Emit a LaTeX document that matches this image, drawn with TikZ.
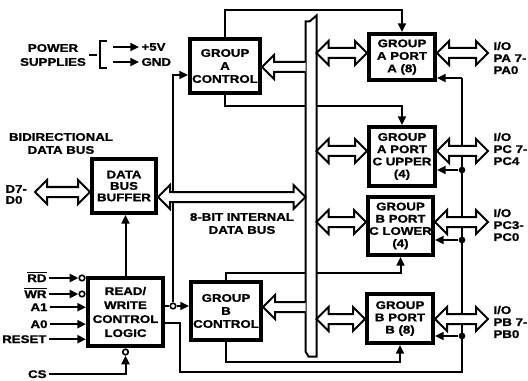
\documentclass[tikz,border=0pt]{standalone}
\usepackage{fontspec}
\newfontfamily\lblfont[FakeStretch=1.2,FakeBold=1.2]{Liberation Sans}
\newcommand{\lbl}[1]{\lblfont\bfseries\fontsize{8.3}{#1}\selectfont}
\usetikzlibrary{arrows.meta,calc}

\tikzset{every picture/.style={line width=0.75pt}}
\tikzset{
  blk/.style={draw, line width=3pt, fill=white, align=center, inner sep=0pt},
  txt/.style={inner sep=1.5pt},
  wire/.style={line width=1.5pt},
  tip/.style={-{Triangle[length=6.5pt,width=6pt]}},
  dot/.style={circle, fill, inner sep=0pt, minimum size=5pt},
  bubble/.style={circle, draw, fill=white, line width=1.2pt, inner sep=0pt, minimum size=4.2pt},
  busarrow/.style={draw, line width=1.5pt, fill=white, line join=miter},
}
% hollow bus arrows, drawn from left end #1 to right end #2
\newcommand{\dblbus}[2]{\draw[busarrow] (#1) -- ++(12,-12) -- ++(0,7) -- ($(#2)+(-12,-5)$) -- ++(0,-7) -- (#2) -- ++(-12,12) -- ++(0,-7) -- ($(#1)+(12,5)$) -- ++(0,7) -- cycle;}
% single hollow arrow from bus #1 to tip #2 (pointing left)
\newcommand{\onebus}[2]{\draw[busarrow] ($(#1)+(0,-5)$) -- ($(#2)+(12,-5)$) -- ++(0,-7) -- (#2) -- ++(12,12) -- ++(0,-7) -- ($(#1)+(0,5)$);}

\begin{document}
\begin{tikzpicture}[x=0.75pt,y=0.75pt,yscale=-1,xscale=1,
  every node/.style={font=\lbl{9.75}}]
\useasboundingbox (0,0) rectangle (528,381);

%Shape: Rectangle
\node[blk, minimum width=52.5pt, minimum height=40.5pt] (gac) at (225,66) {GROUP\\A\\CONTROL};
%Shape: Rectangle
\node[blk, minimum width=52.5pt, minimum height=43.5pt] (gbc) at (226,311) {GROUP\\B\\CONTROL};
%Shape: Rectangle
\node[blk, minimum width=48pt, minimum height=40.5pt, font=\lbl{8.6}] (dbb) at (124,186) {DATA\\BUS\\BUFFER};
%Shape: Rectangle
\node[blk, minimum width=56.25pt, minimum height=51pt, font=\lbl{10.5}] (rw) at (125.5,312) {READ/\\WRITE\\CONTROL\\LOGIC};
%Shape: Rectangle
\node[blk, minimum width=49.5pt, minimum height=34.5pt, font=\lbl{9.4}] (pa) at (402,57) {GROUP\\A PORT\\A (8)};
%Shape: Rectangle
\node[blk, minimum width=49.5pt, minimum height=44.25pt, font=\lbl{9.2}] (pcu) at (402,156.5) {GROUP\\A PORT\\C UPPER\\(4)};
%Shape: Rectangle
\node[blk, minimum width=48.75pt, minimum height=43.5pt, font=\lbl{9.2}] (pcl) at (400.5,226) {GROUP\\B PORT\\C LOWER\\(4)};
%Shape: Rectangle
\node[blk, minimum width=49.5pt, minimum height=36.75pt, font=\lbl{9.2}] (pb) at (400,318.5) {GROUP\\B PORT\\B (8)};
%Shape: Bus
\node[inner sep=0pt, minimum width=7.5pt, minimum height=255pt] (bus) at (311,186) {};

% Text Node
\node[txt, align=center, font=\lbl{10.5}] (pwr) at (53,55) {POWER\\SUPPLIES};
% Text Node
\node[txt, anchor=west] (v5) at (139,47) {+5V};
% Text Node
\node[txt, anchor=west] (gnd) at (139,62) {GND};
% Text Node
\node[txt, align=center] (bid) at (61,143.5) {BIDIRECTIONAL\\DATA BUS};
% Text Node
\node[txt, align=left, anchor=west, font=\lbl{8.25}] (dl) at (3,194.5) {D7-\\D0};
% Text Node
\node[txt, align=center] (ibl) at (242,223.5) {8-BIT INTERNAL\\DATA BUS};
% Text Node
\node[txt, anchor=base east] (rd) at (49,282) {$\overline{\hbox{RD}}$};
% Text Node
\node[txt, anchor=base east] (wr) at (49,298) {$\overline{\hbox{WR}}$};
% Text Node
\node[txt, anchor=base east] (a1) at (50,311) {A1};
% Text Node
\node[txt, anchor=base east] (a0) at (50,328) {A0};
% Text Node
\node[txt, anchor=base east] (rst) at (49,343) {RESET};
% Text Node
\node[txt, anchor=base east] (cs) at (49,378) {CS};
% Text Node
\node[txt, align=left, anchor=west, font=\lbl{9}] (ioa) at (491,58) {I/O\\PA 7-\\PA0};
% Text Node
\node[txt, align=left, anchor=west, font=\lbl{9}] (iocu) at (491,149) {I/O\\PC 7-\\PC4};
% Text Node
\node[txt, align=left, anchor=west, font=\lbl{9}] (iocl) at (491,225) {I/O\\PC3-\\PC0};
% Text Node
\node[txt, align=left, anchor=west, font=\lbl{9}] (iob) at (491,322) {I/O\\PB 7-\\PB0};

%Straight Lines: power supplies
\draw[wire] (pwr.east) ++(1,0) -- ++(8,0);
\draw[wire] (107,41) -- (100,41) -- (100,68) -- (107,68);
\coordinate (p5) at (113,47);
\coordinate (pg) at (113,62);
\draw[wire, tip] (p5) -- (v5.west);
\draw[wire, tip] (pg) -- (gnd.west);

%Straight Lines: control inputs
\node[bubble] (rdn) at (82,278) {};
\node[bubble] (wrn) at (82,294) {};
\node[bubble] (csn) at (125.5,352) {};
\draw[wire, tip] (rdn -| rd.east) -- (rdn.west);
\draw[wire, tip] (wrn -| wr.east) -- (wrn.west);
\draw[wire, tip] (a1.east) -- (a1.east -| rw.west);
\draw[wire, tip] (a0.east) -- (a0.east -| rw.west);
\draw[wire, tip] (rst.east) -- (rst.east -| rw.west);
\draw[wire, tip] (cs.east) -| (csn.south);
\draw[wire, tip] (rw.north) -- (rw.north |- dbb.south);

%Straight Lines: read/write outputs
\node[bubble] (jo) at (173,306) {};
\draw[wire] (jo -| rw.east) -- (jo.west);
\draw[wire, tip] (jo.east) -- (jo -| gbc.west);
\draw[wire, tip] (jo.north) |- ($(gac.west)+(0,9)$);
\coordinate (rb) at (180,372);
\coordinate (ja) at (462,78);
\node[dot] (jcu) at (462,170) {};
\node[dot] (jcl) at (462,240) {};
\node[dot] (jpb) at (462,336) {};
\draw[wire] ($(rw.east)+(0,11)$) -| (rb) -| (ja);
\draw[wire, tip] (ja) -- (ja -| pa.east);
\draw[wire, tip] (jcu) -- (jcu -| pcu.east);
\draw[wire, tip] (jcl) -- (jcl -| pcl.east);
\draw[wire, tip] (jpb) -- (jpb -| pb.east);

%Straight Lines: group controls to ports
\draw[wire, tip] (gac.north) -- ++(0,-27) -| (pa.north);
\draw[wire, tip] (gac.south) -- ++(0,11) -| (pcu.north);
\draw[wire, tip] (gbc.north) -- ++(0,-7) -| (pcl.south);
\draw[wire, tip] (gbc.south) -- ++(0,20) -| (pb.south);

%Shape: internal bus
\draw[wire, fill=white] ($(bus.south west)+(0,-5)$) -- ($(bus.north west)+(0,6)$) -- ++(4,0) -- (bus.north east) -- (bus.south east) -- ($(bus.south west)+(3,0)$) -- cycle;

%Shape: hollow arrows
\coordinate (dd) at (35,192);
\dblbus{dd}{dd -| dbb.west}
\coordinate (ib) at (158,197);
\dblbus{ib -| dbb.east}{ib -| bus.west}
\coordinate (ga) at (0,67);
\onebus{ga -| bus.west}{ga -| gac.east}
\coordinate (gb) at (0,307);
\onebus{gb -| bus.west}{gb -| gbc.east}
\coordinate (ea) at (488,53);
\dblbus{ea -| bus.east}{ea -| pa.west}
\dblbus{ea -| pa.east}{ea}
\coordinate (ecu) at (488,151);
\dblbus{ecu -| bus.east}{ecu -| pcu.west}
\dblbus{ecu -| pcu.east}{ecu}
\coordinate (ecl) at (488,222);
\dblbus{ecl -| bus.east}{ecl -| pcl.west}
\dblbus{ecl -| pcl.east}{ecl}
\coordinate (eb) at (488,319);
\dblbus{eb -| bus.east}{eb -| pb.west}
\dblbus{eb -| pb.east}{eb}

\end{tikzpicture}
\end{document}
